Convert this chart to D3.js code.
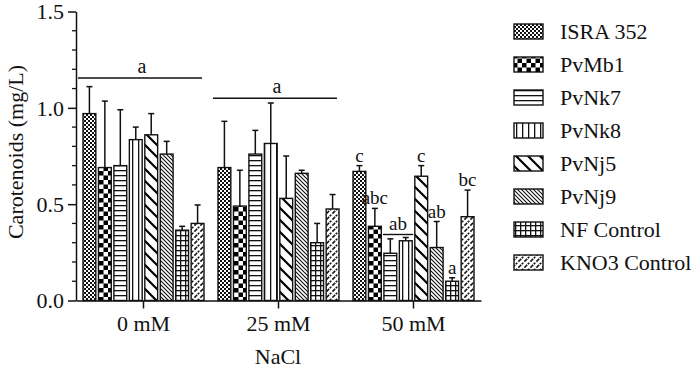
<!DOCTYPE html>
<html>
<head>
<meta charset="utf-8">
<script src="https://cdn.jsdelivr.net/npm/d3@7"></script>
<style>
html,body{margin:0;padding:0;background:#fff;}
svg{display:block;}
</style>
</head>
<body>
<svg id="chart" width="700" height="378"></svg>
<script>
const groups = ["0 mM", "25 mM", "50 mM"];
const series = ["ISRA 352", "PvMb1", "PvNk7", "PvNk8", "PvNj5", "PvNj9", "NF Control", "KNO3 Control"];
const means0 = [0.97, 0.69, 0.70, 0.835, 0.86, 0.76, 0.365, 0.40];
const means25 = [0.69, 0.49, 0.76, 0.815, 0.53, 0.66, 0.30, 0.475];
const means50 = [0.67, 0.385, 0.245, 0.31, 0.645, 0.275, 0.10, 0.435];
const err0 = [0.14, 0.345, 0.29, 0.065, 0.11, 0.066, 0.02, 0.096];
const err25 = [0.24, 0.186, 0.123, 0.21, 0.22, 0.016, 0.10, 0.075];
const err50 = [0.03, 0.093, 0.075, 0.017, 0.055, 0.135, 0.018, 0.138];
const yTicks = [0.0, 0.5, 1.0, 1.5];
// group-wide letters: [group index, label]
const groupLetters = [[0, "a"], [1, "a"]];
// letters over single bars in 50 mM: [series index, label]
const barLetters50 = [[0, "c"], [1, "abc"], [4, "c"], [5, "ab"], [6, "a"], [7, "bc"]];
// letter spanning two bars in 50 mM: [first series, last series, label]
const spanLetters50 = [[2, 3, "ab"]];

const means = [means0, means25, means50];
const errs = [err0, err25, err50];
const FONT = "'Liberation Serif', 'Tinos', 'Times New Roman', 'DejaVu Serif', 'Noto Serif', serif";

const svg = d3.select("#chart");
const defs = svg.append("defs");

function pat(id, w, h, draw) {
  const p = defs.append("pattern").attr("id", id).attr("patternUnits", "userSpaceOnUse")
    .attr("width", w).attr("height", h);
  p.append("rect").attr("width", w).attr("height", h).attr("fill", "#fff");
  draw(p);
}
pat("p0", 4, 4, p => {
  p.append("rect").attr("x", 0).attr("y", 0).attr("width", 2).attr("height", 2).attr("fill", "#111");
  p.append("rect").attr("x", 2).attr("y", 2).attr("width", 2).attr("height", 2).attr("fill", "#111");
});
pat("p1", 9, 9, p => {
  p.append("rect").attr("x", 0).attr("y", 0).attr("width", 4.5).attr("height", 4.5).attr("fill", "#000");
  p.append("rect").attr("x", 4.5).attr("y", 4.5).attr("width", 4.5).attr("height", 4.5).attr("fill", "#000");
});
pat("p2", 4, 5, p => {
  p.append("rect").attr("x", 0).attr("y", 0).attr("width", 4).attr("height", 1.3).attr("fill", "#111");
});
pat("p3", 6, 4, p => {
  p.append("rect").attr("x", 0).attr("y", 0).attr("width", 1.3).attr("height", 4).attr("fill", "#111");
});
pat("p4", 12, 12, p => {
  p.append("path").attr("d", "M-3,-3 L15,15 M-3,9 L3,15 M9,-3 L15,3").attr("stroke", "#000").attr("stroke-width", 2.2);
});
pat("p5", 4, 4, p => {
  p.append("path").attr("d", "M-1,-1 L5,5 M-1,3 L1,5 M3,-1 L5,1").attr("stroke", "#111").attr("stroke-width", 1.1);
});
pat("p6", 5, 5, p => {
  p.append("rect").attr("x", 0).attr("y", 0).attr("width", 5).attr("height", 1.3).attr("fill", "#111");
  p.append("rect").attr("x", 0).attr("y", 0).attr("width", 1.3).attr("height", 5).attr("fill", "#111");
});
pat("p7", 6, 6, p => {
  p.append("path").attr("d", "M-1.5,7.5 L7.5,-1.5 M-1.5,1.5 L1.5,-1.5 M4.5,7.5 L7.5,4.5").attr("stroke", "#111").attr("stroke-width", 1.5)
    .attr("stroke-dasharray", "4,1.5");
});

const y = d3.scaleLinear().domain([0, 1.5]).range([300.5, 11.5]);
const x0 = d3.scaleBand().domain(groups).range([76, 481]).paddingInner(0).paddingOuter(0);
const x1 = d3.scaleBand().domain(series).range([7, 128]).paddingInner(0.17).paddingOuter(0);

const gBars = svg.append("g");
groups.forEach((g, gi) => {
  series.forEach((s, si) => {
    const v = means[gi][si], e = errs[gi][si];
    const bx = x0(g) + x1(s), bw = x1.bandwidth();
    const cx = bx + bw / 2;
    gBars.append("line").attr("x1", cx).attr("x2", cx).attr("y1", y(v)).attr("y2", y(v + e))
      .attr("stroke", "#111").attr("stroke-width", 1.5);
    gBars.append("line").attr("x1", cx - 3).attr("x2", cx + 3).attr("y1", y(v + e)).attr("y2", y(v + e))
      .attr("stroke", "#111").attr("stroke-width", 1.5);
    gBars.append("rect").attr("x", bx).attr("y", y(v)).attr("width", bw).attr("height", y(0) - y(v))
      .attr("fill", "url(#p" + si + ")").attr("stroke", "#111").attr("stroke-width", 1.4);
  });
});

const yAxis = d3.axisLeft(y).tickValues(yTicks).tickFormat(d3.format(".1f")).tickSize(8).tickSizeOuter(0);
const ya = svg.append("g").attr("transform", "translate(76,0)").call(yAxis).attr("font-family", null);
ya.select(".domain").attr("stroke", "#111").attr("stroke-width", 1.5);
ya.selectAll(".tick line").attr("stroke", "#111").attr("stroke-width", 1.5);
ya.selectAll(".tick text").attr("x", -12).attr("dy", "0.34em");
const minor = d3.range(0, 1.5001, 0.1).filter(v => !yTicks.some(t => Math.abs(t - v) < 1e-6));
svg.append("g").selectAll("line").data(minor).join("line")
  .attr("x1", 72).attr("x2", 76).attr("y1", d => y(d)).attr("y2", d => y(d))
  .attr("stroke", "#111").attr("stroke-width", 1.3);

const xAxis = d3.axisBottom(x0).tickSize(8).tickSizeOuter(0);
const xa = svg.append("g").attr("transform", "translate(0," + y(0) + ")").call(xAxis).attr("font-family", null);
xa.select(".domain").attr("stroke", "#111").attr("stroke-width", 1.5);
xa.selectAll(".tick line").attr("stroke", "#111").attr("stroke-width", 1.5);
xa.selectAll(".tick text").attr("y", 15);

svg.append("text").attr("x", 278).attr("y", 364).attr("text-anchor", "middle").attr("class", "t22").text("NaCl");
svg.append("text").attr("transform", "translate(23,152) rotate(-90)").attr("text-anchor", "middle")
  .attr("class", "t22").text("Carotenoids (mg/L)");

const gOffsets = [1.155, 1.05];
groupLetters.forEach(([gi, lab], k) => {
  const yy = y(gOffsets[k]);
  const xs = x0(groups[gi]) + 2, xe = x0(groups[gi]) + x0.bandwidth() - 9;
  svg.append("line").attr("x1", xs).attr("x2", xe).attr("y1", yy).attr("y2", yy).attr("stroke", "#111").attr("stroke-width", 1.5);
  svg.append("text").attr("x", (xs + xe) / 2 + 2).attr("y", yy - 5).attr("text-anchor", "middle").attr("class", "t20").text(lab);
});

barLetters50.forEach(([si, lab]) => {
  const v = means50[si] + err50[si];
  const cx = x0(groups[2]) + x1(series[si]) + x1.bandwidth() / 2;
  svg.append("text").attr("x", cx).attr("y", y(v) - 4).attr("text-anchor", "middle").attr("class", "t19").text(lab);
});
spanLetters50.forEach(([a, b, lab]) => {
  const v = Math.max(means50[a] + err50[a], means50[b] + err50[b]);
  const xs = x0(groups[2]) + x1(series[a]) - 1, xe = x0(groups[2]) + x1(series[b]) + x1.bandwidth() + 1;
  const yy = y(v) - 3;
  svg.append("line").attr("x1", xs).attr("x2", xe).attr("y1", yy).attr("y2", yy).attr("stroke", "#111").attr("stroke-width", 1.4);
  svg.append("text").attr("x", (xs + xe) / 2).attr("y", yy - 4).attr("text-anchor", "middle").attr("class", "t19").text(lab);
});

const lg = svg.append("g");
series.forEach((s, si) => {
  const cy = 31.5 + si * 33;
  lg.append("rect").attr("x", 514).attr("y", cy - 7.5).attr("width", 29).attr("height", 15)
    .attr("fill", "url(#p" + si + ")").attr("stroke", "#111").attr("stroke-width", 1.4);
  lg.append("text").attr("x", 560).attr("y", cy).attr("dy", "0.35em").attr("class", "t22").text(s);
});

svg.selectAll("text").each(function () {
  const el = d3.select(this);
  const c = el.attr("class") || "";
  const size = c === "t20" ? 20 : c === "t19" ? 19 : 22;
  el.style("font-family", FONT).style("font-size", size + "px").style("fill", "#111");
});
</script>
</body>
</html>
